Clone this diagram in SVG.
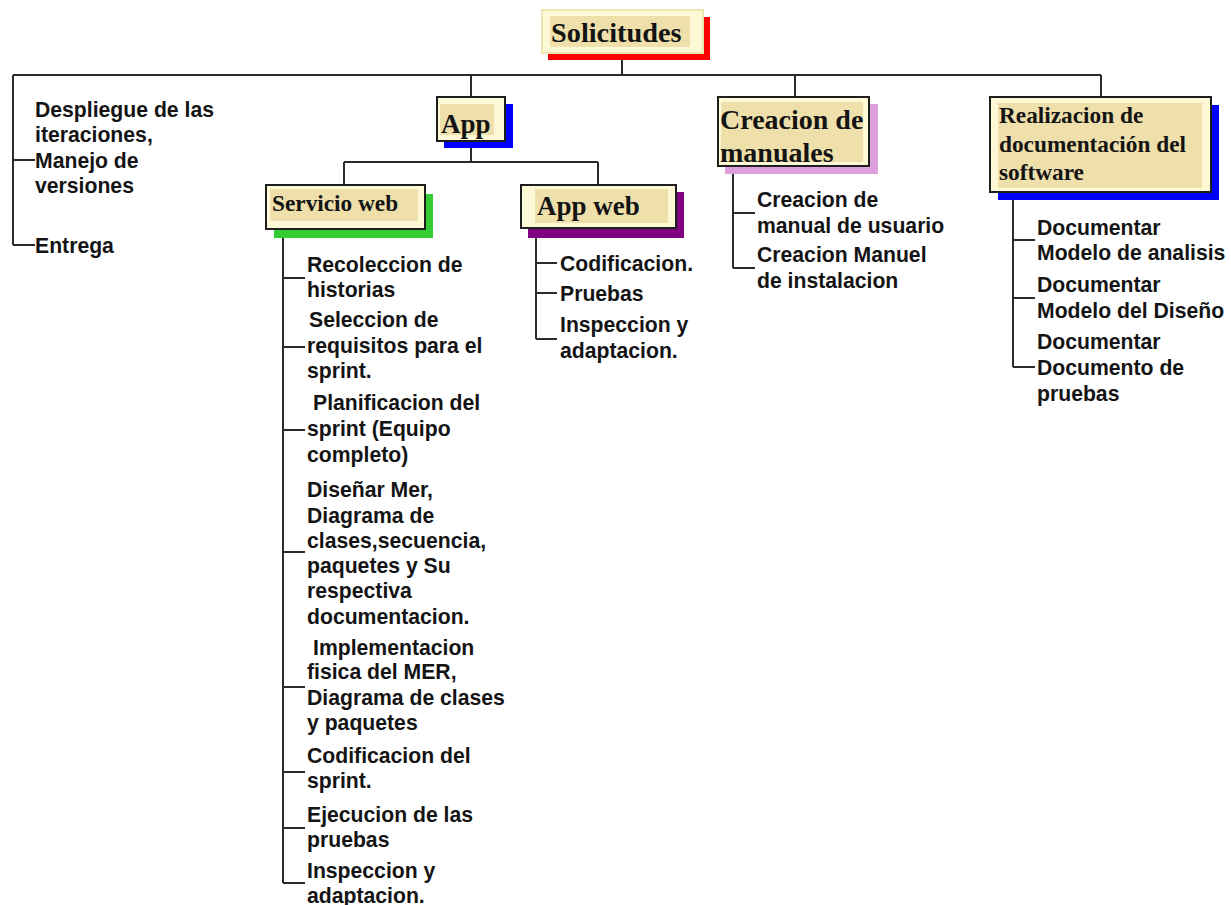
<svg xmlns="http://www.w3.org/2000/svg" width="1231" height="905" viewBox="0 0 1231 905">
  <style>
    .wire { stroke: #2a2a2a; stroke-width: 2; fill: none; }
    .box { fill: #fdf9d6; stroke: #1e1e1e; stroke-width: 2; }
    .box-light { fill: #fdf9d6; stroke: #ede6b0; stroke-width: 2; }
    .pad { fill: #efe0ab; }
    .head { font-family: "Liberation Serif", "Times New Roman", serif; font-weight: bold; fill: #141414; }
    .item { font-family: "Liberation Sans", Arial, sans-serif; font-weight: bold; font-size: 21.2px; fill: #141414; }
  </style>

  <rect width="1231" height="905" fill="#ffffff"/>

  <!-- tree connectors -->
  <g id="connectors">
    <path class="wire" d="M622 53 V75 M13 75 H1101 M13 75 V245 M13 160 H35 M13 245 H35"/>
    <path class="wire" d="M471 75 V97 M795 75 V97 M1101 75 V97"/>
    <path class="wire" d="M471 141 V162 M344 162 H598 M344 162 V185 M598 162 V185"/>
    <path class="wire" d="M283 229 V883 M283 278 H305 M283 347 H305 M283 430 H305 M283 552 H305 M283 687 H305 M283 772 H305 M283 828 H305 M283 883 H305"/>
    <path class="wire" d="M536 229 V339 M536 263 H557 M536 293 H557 M536 339 H557"/>
    <path class="wire" d="M733 166 V268 M733 213 H755 M733 268 H755"/>
    <path class="wire" d="M1013 192 V367 M1013 240 H1035 M1013 298 H1035 M1013 367 H1035"/>
  </g>

  <!-- root -->
  <g id="node-solicitudes">
    <rect x="548" y="17" width="162" height="43" fill="#ff0000"/>
    <rect class="box-light" x="542" y="10" width="161" height="43"/>
    <rect class="pad" x="550" y="16" width="140" height="31"/>
    <text class="head" x="551" y="42" font-size="28.3">Solicitudes</text>
  </g>

  <!-- left column items -->
  <g id="node-despliegue">
    <text class="item" x="35" y="117">Despliegue de las</text>
    <text class="item" x="35" y="142">iteraciones,</text>
    <text class="item" x="35" y="168">Manejo de</text>
    <text class="item" x="35" y="193">versiones</text>
  </g>
  <g id="node-entrega">
    <text class="item" x="35" y="253">Entrega</text>
  </g>

  <!-- App -->
  <g id="node-app">
    <rect x="444" y="104" width="69" height="44" fill="#0000ff"/>
    <rect class="box" x="437" y="97" width="68" height="44"/>
    <rect class="pad" x="440" y="104" width="54" height="31"/>
    <text class="head" x="441" y="133" font-size="27">App</text>
  </g>

  <g id="node-servicio-web">
    <rect x="274" y="194" width="159" height="44" fill="#33cc33"/>
    <rect class="box" x="266" y="185" width="159" height="44"/>
    <rect class="pad" x="270" y="189" width="148" height="32"/>
    <text class="head" x="272" y="211" font-size="23.3">Servicio web</text>
  </g>

  <g id="node-app-web">
    <rect x="528" y="192" width="156" height="46" fill="#800080"/>
    <rect class="box" x="521" y="185" width="155" height="43"/>
    <rect class="pad" x="535" y="189" width="133" height="34"/>
    <text class="head" x="537" y="215" font-size="27">App web</text>
  </g>

  <!-- Servicio web tasks -->
  <g id="node-recoleccion">
    <text class="item" x="307" y="272">Recoleccion de</text>
    <text class="item" x="307" y="297">historias</text>
  </g>
  <g id="node-seleccion">
    <text class="item" x="309" y="327">Seleccion de</text>
    <text class="item" x="307" y="353">requisitos para el</text>
    <text class="item" x="307" y="378">sprint.</text>
  </g>
  <g id="node-planificacion">
    <text class="item" x="313" y="410">Planificacion del</text>
    <text class="item" x="307" y="436">sprint (Equipo</text>
    <text class="item" x="307" y="462">completo)</text>
  </g>
  <g id="node-disenar">
    <text class="item" x="307" y="497">Diseñar Mer,</text>
    <text class="item" x="307" y="523">Diagrama de</text>
    <text class="item" x="307" y="548">clases,secuencia,</text>
    <text class="item" x="307" y="573">paquetes y Su</text>
    <text class="item" x="307" y="598">respectiva</text>
    <text class="item" x="307" y="624">documentacion.</text>
  </g>
  <g id="node-implementacion">
    <text class="item" x="313" y="655">Implementacion</text>
    <text class="item" x="307" y="679">fisica del MER,</text>
    <text class="item" x="307" y="705">Diagrama de clases</text>
    <text class="item" x="307" y="730">y paquetes</text>
  </g>
  <g id="node-codificacion-sprint">
    <text class="item" x="307" y="763">Codificacion del</text>
    <text class="item" x="307" y="788">sprint.</text>
  </g>
  <g id="node-ejecucion">
    <text class="item" x="307" y="822">Ejecucion de las</text>
    <text class="item" x="307" y="847">pruebas</text>
  </g>
  <g id="node-inspeccion-sw">
    <text class="item" x="307" y="878">Inspeccion y</text>
    <text class="item" x="307" y="903">adaptacion.</text>
  </g>

  <!-- App web tasks -->
  <g id="node-codificacion">
    <text class="item" x="560" y="271">Codificacion.</text>
  </g>
  <g id="node-pruebas">
    <text class="item" x="560" y="301">Pruebas</text>
  </g>
  <g id="node-inspeccion-aw">
    <text class="item" x="560" y="332">Inspeccion y</text>
    <text class="item" x="560" y="358">adaptacion.</text>
  </g>

  <!-- Creacion de manuales -->
  <g id="node-manuales">
    <rect x="725" y="104" width="153" height="70" fill="#dda0dd"/>
    <rect class="box" x="718" y="97" width="151" height="69"/>
    <rect class="pad" x="721" y="102" width="142" height="60"/>
    <text class="head" x="720" y="129" font-size="28">Creacion de</text>
    <text class="head" x="720" y="162" font-size="28">manuales</text>
  </g>
  <g id="node-manual-usuario">
    <text class="item" x="757" y="207">Creacion de</text>
    <text class="item" x="757" y="233">manual de usuario</text>
  </g>
  <g id="node-manual-instalacion">
    <text class="item" x="757" y="262">Creacion Manuel</text>
    <text class="item" x="757" y="288">de instalacion</text>
  </g>

  <!-- Realizacion de documentacion -->
  <g id="node-documentacion">
    <rect x="998" y="105" width="221" height="95" fill="#0000ff"/>
    <rect class="box" x="990" y="97" width="221" height="95"/>
    <rect class="pad" x="998" y="103" width="204" height="85"/>
    <text class="head" x="999" y="123" font-size="23.3">Realizacion de</text>
    <text class="head" x="999" y="152" font-size="23.3">documentación del</text>
    <text class="head" x="999" y="180" font-size="23.3">software</text>
  </g>
  <g id="node-doc-analisis">
    <text class="item" x="1037" y="235">Documentar</text>
    <text class="item" x="1037" y="260">Modelo de analisis</text>
  </g>
  <g id="node-doc-diseno">
    <text class="item" x="1037" y="292">Documentar</text>
    <text class="item" x="1037" y="318">Modelo del Diseño</text>
  </g>
  <g id="node-doc-pruebas">
    <text class="item" x="1037" y="349">Documentar</text>
    <text class="item" x="1037" y="375">Documento de</text>
    <text class="item" x="1037" y="401">pruebas</text>
  </g>
</svg>
